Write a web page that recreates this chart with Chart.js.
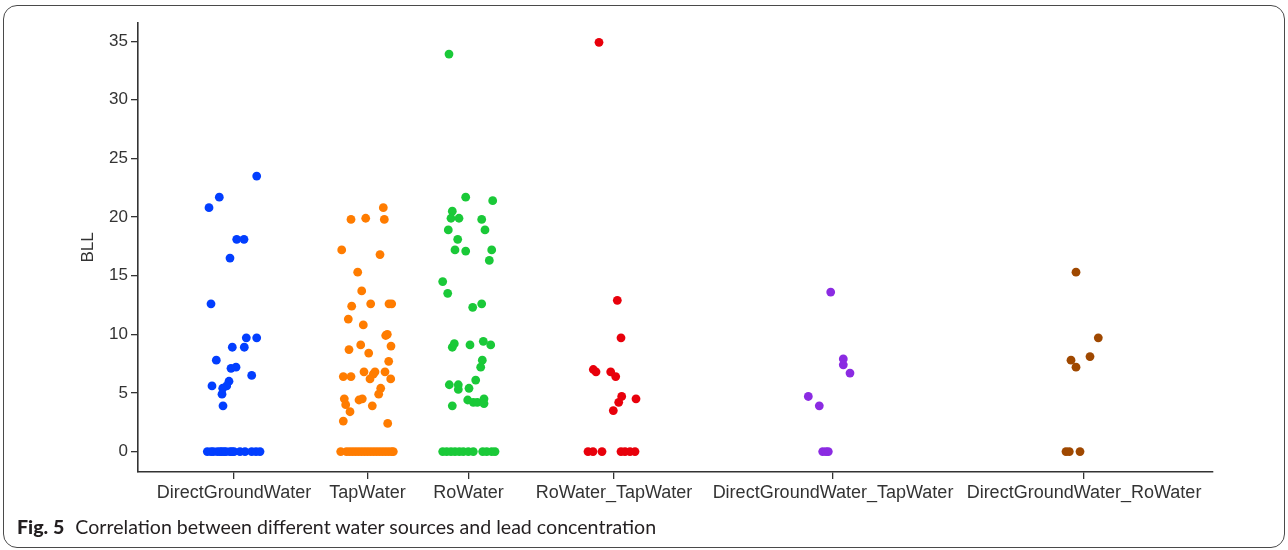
<!DOCTYPE html>
<html>
<head>
<meta charset="utf-8">
<script src="https://cdn.jsdelivr.net/npm/chart.js@4"></script>
<style>
  body { margin: 0; background: #fff; }
  #wrap { position: relative; width: 1288px; height: 550px; overflow: hidden; }
  #frame {
    position: absolute; left: 3px; top: 5px; width: 1280px; height: 541px;
    border: 1.3px solid #4a4a4a; border-radius: 14px; pointer-events: none;
  }
  #caption {
    position: absolute; left: 17px; top: 515px; font-family: Lato, sans-serif;
    font-size: 19.6px; color: #231f20; white-space: nowrap;
  }
  #caption b { font-weight: 900; margin-right: 6px; }
</style>
</head>
<body>
<div id="wrap">
  <canvas id="chart" width="1288" height="550"></canvas>
  <div id="frame"></div>
  <div id="caption"><b>Fig. 5</b> Correlation between different water sources and lead concentration</div>
</div>
<script>
// categories and strip-plot values (BLL), with the jitter
const categories = ['DirectGroundWater', 'TapWater', 'RoWater', 'RoWater_TapWater',
  'DirectGroundWater_TapWater', 'DirectGroundWater_RoWater'];
const yTicks = [0, 5, 10, 15, 20, 25, 30, 35];

const directGroundValues = [23.5, 21.7, 20.8, 18.1, 18.1, 16.5, 12.6, 9.7, 9.7, 8.9, 8.9, 7.8, 7.1, 7.2, 6.5,
  5.6, 6.0, 5.6, 5.4, 4.9, 3.9,
  0, 0, 0, 0, 0, 0, 0, 0, 0, 0, 0, 0, 0, 0, 0, 0];
const directGroundJitter = [22.7, -14.7, -25, 2.7, 10, -4, -23, 12.3, 22.7, -1.7, 10.3, -17.7, -3, 2, 17.7,
  -22, -5, -7.3, -11.3, -12, -11,
  -26.7, -23, -20.7, -16.7, -14, -12.3, -10, -8, -4, -2, 0, 6, 11, 17.7, 22, 26];

const tapValues = [20.8, 19.8, 19.9, 19.8, 17.2, 16.8, 15.3, 13.7, 12.4, 12.6, 12.6, 12.6, 11.3, 10.8, 9.9, 10.0,
  8.7, 9.1, 8.4, 9.0, 7.7, 6.4, 6.4, 6.8, 6.8, 6.6, 6.2, 6.8, 6.2, 5.4, 4.9, 4.5, 4.4, 4.5, 4.0, 3.9, 3.4, 2.6, 2.4,
  0, 0, 0, 0, 0, 0, 0, 0, 0, 0, 0, 0, 0, 0, 0, 0, 0, 0];
const tapJitter = [15.8, -16.5, -1.8, 16.8, -25.8, 12.5, -9.8, -5.8, -15.8, 3.2, 21.5, 24.2, -19.2, -4.2, 18.2, 19.8,
  -18.5, -6.8, 1.2, 23.5, 21.2, -24.2, -16.5, -3.5, 7.5, 5.8, 2.5, 17.5, 23.2, 13.2, 11.2, -23.2, -8.5, -5.2, -21.8, 4.8, -17.5, -24.2, 20.2,
  -26.8, -21, -18, -15, -12, -9, -6, -3, 0, 3, 6, 9, 12, 15, 18, 21, 24, 25.8];

const roValues = [33.9, 21.7, 21.4, 20.5, 19.9, 19.9, 19.8, 18.9, 18.9, 18.1, 17.2, 17.1, 17.2, 16.3, 14.5, 13.5, 12.3, 12.6,
  8.9, 9.2, 9.1, 9.4, 9.1, 7.8, 7.2, 6.1, 5.7, 5.7, 5.3, 5.4, 4.4, 4.2, 4.2, 4.5, 4.1, 3.9,
  0, 0, 0, 0, 0, 0, 0, 0, 0, 0, 0, 0];
const roJitter = [-19.5, -2.8, 24.2, -16.2, -17.5, -9.5, 13.2, -20.2, 16.5, -10.8, -13.5, -2.8, 23.2, 20.8, -25.8, -20.8, 4.2, 13.2,
  -16.2, -14.2, 1.5, 14.8, 22.2, 13.8, 12.2, 7.2, -19.2, -10.2, -10.2, 0.5, -0.8, 4.8, 8.8, 15.5, 15.5, -16.2,
  -25.8, -21.8, -17.5, -13.5, -9.2, -5.2, -0.2, 4.8, 14.2, 18.2, 23.2, 26.5];

const roTapValues = [34.9, 12.9, 9.7, 7.0, 6.8, 6.8, 6.4, 4.7, 4.2, 4.5, 3.5,
  0, 0, 0, 0, 0, 0, 0];
const roTapJitter = [-15, 3.3, 7, -20.7, -18, -3.3, 1.7, 7.7, 4.7, 22, -0.7,
  -26, -21, -12, 7, 11, 16, 21];

const groundTapValues = [13.6, 7.9, 7.4, 6.7, 4.7, 3.9, 0, 0, 0];
const groundTapJitter = [-2.3, 10.3, 10.3, 17, -24.7, -13.7, -10.3, -7, -4.7];

const groundRoValues = [15.3, 9.7, 8.1, 7.8, 7.2, 0, 0, 0];
const groundRoJitter = [-8, 14.3, 6, -13, -8, -18, -14.7, -4];

// layout: where each category sits along the x axis (axis runs 0..1075)
const xSpan = 1075;
const catCenters = [96, 229.5, 330.5, 476, 695, 946];
const colors = ['#023eff', '#ff7c00', '#1ac938', '#e8000b', '#8b2be2', '#9f4800'];

const allValues = [directGroundValues, tapValues, roValues, roTapValues, groundTapValues, groundRoValues];
const allJitter = [directGroundJitter, tapJitter, roJitter, roTapJitter, groundTapJitter, groundRoJitter];

const datasets = categories.map((name, i) => ({
  label: name,
  data: allValues[i].map((v, j) => ({x: catCenters[i] + allJitter[i][j], y: v})),
  backgroundColor: colors[i],
  borderColor: colors[i],
  borderWidth: 0,
  pointRadius: 4.4,
  pointHoverRadius: 4.4
}));

const axisColor = '#333';
const tickFont = {family: "'Liberation Sans', Arial, sans-serif", size: 18};

const ctx = document.getElementById('chart').getContext('2d');
new Chart(ctx, {
  type: 'scatter',
  data: {datasets: datasets},
  options: {
    responsive: false,
    animation: false,
    layout: {padding: {left: 74, top: 23, right: 75, bottom: 38}},
    plugins: {
      legend: {display: false},
      tooltip: {enabled: false}
    },
    scales: {
      x: {
        type: 'linear',
        min: 0,
        max: xSpan,
        afterBuildTicks: s => { s.ticks = catCenters.map(v => ({value: v})); },
        afterFit: s => { s.height = 40; },
        ticks: {
          autoSkip: false,
          maxRotation: 0,
          padding: 3,
          color: '#333',
          font: tickFont,
          callback: (val, idx) => categories[idx]
        },
        grid: {drawOnChartArea: false, drawTicks: true, tickLength: 7, color: axisColor, lineWidth: 1.3},
        border: {color: axisColor, width: 1.6}
      },
      y: {
        min: -1.74,
        max: 36.55,
        afterBuildTicks: s => { s.ticks = yTicks.map(v => ({value: v})); },
        afterFit: s => { s.width = 64; },
        ticks: {padding: 3, color: '#333', font: {family: "'Liberation Sans', Arial, sans-serif", size: 17}},
        title: {display: true, text: 'BLL', color: '#333', font: {family: "'Liberation Sans', Arial, sans-serif", size: 17}},
        grid: {drawOnChartArea: false, drawTicks: true, tickLength: 7, color: axisColor, lineWidth: 1.3},
        border: {color: axisColor, width: 1.6}
      }
    }
  }
});
</script>
</body>
</html>
